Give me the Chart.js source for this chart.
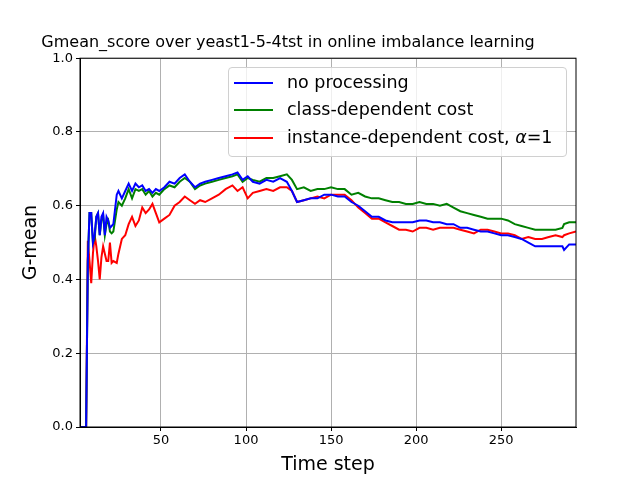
<!DOCTYPE html>
<html><head><meta charset="utf-8">
<script src="https://cdn.jsdelivr.net/npm/chart.js@4/dist/chart.umd.min.js"></script>
<style>
body{margin:0;background:#fff;font-family:"DejaVu Sans",sans-serif}
#wrap{position:relative;width:640px;height:480px}
#leg{position:absolute;left:228px;top:67px;width:337px;height:88px;border:1px solid #d0d0d0;border-radius:4px;background:rgba(255,255,255,0.8);font-size:17.5px;color:#000}
.it{position:absolute;left:5px;height:20px;line-height:20px;white-space:nowrap}
.ln{display:inline-block;width:39px;height:2px;vertical-align:middle;margin-right:14px}
</style></head><body>
<div id="wrap"><canvas id="c" width="640" height="480"></canvas>
<div id="leg">
<div class="it" style="top:4px"><span class="ln" style="background:#0000ff"></span>no processing</div>
<div class="it" style="top:31px"><span class="ln" style="background:#008000"></span>class-dependent cost</div>
<div class="it" style="top:59px"><span class="ln" style="background:#ff0000"></span>instance-dependent cost, <i>α</i>=1</div>
</div></div>
<script>
const steps=[3,5,6,7,8,9,10,11,12,13,14,15,16,17,18,19,20,21,22,24,25,27,29,31,33,35,37,39,41,43,45,47,49,52,55,58,61,64,67,70,73,76,80,84,88,92,95,98,101,104,108,112,116,120,124,127,130,134,138,142,146,150,154,158,162,166,170,174,178,182,186,190,194,198,202,206,210,214,218,222,226,230,234,238,242,246,250,254,258,262,266,270,274,278,282,286,287,290,294];
const noProc=[0,0,0,0.45,0.58,0.58,0.5,0.52,0.57,0.58,0.52,0.57,0.58,0.52,0.57,0.56,0.54,0.545,0.55,0.63,0.64,0.62,0.64,0.66,0.64,0.66,0.65,0.655,0.64,0.645,0.635,0.645,0.64,0.65,0.665,0.66,0.675,0.685,0.665,0.65,0.66,0.665,0.67,0.675,0.68,0.685,0.69,0.67,0.68,0.665,0.66,0.67,0.665,0.675,0.665,0.64,0.61,0.615,0.62,0.62,0.63,0.63,0.625,0.625,0.61,0.6,0.585,0.57,0.57,0.56,0.555,0.555,0.555,0.555,0.56,0.56,0.555,0.555,0.55,0.55,0.54,0.54,0.535,0.53,0.53,0.525,0.52,0.52,0.515,0.51,0.5,0.49,0.49,0.49,0.49,0.49,0.48,0.495,0.495];
const classCost=[0,0,0,0.45,0.58,0.58,0.5,0.51,0.57,0.58,0.52,0.56,0.575,0.52,0.55,0.56,0.53,0.525,0.53,0.59,0.61,0.6,0.62,0.645,0.62,0.645,0.64,0.645,0.63,0.64,0.625,0.635,0.63,0.645,0.655,0.65,0.665,0.675,0.665,0.645,0.655,0.66,0.665,0.67,0.675,0.68,0.685,0.665,0.675,0.67,0.665,0.675,0.675,0.68,0.685,0.67,0.645,0.65,0.64,0.645,0.645,0.65,0.645,0.645,0.63,0.635,0.625,0.62,0.62,0.615,0.61,0.61,0.605,0.605,0.61,0.605,0.605,0.6,0.605,0.595,0.585,0.58,0.575,0.57,0.565,0.565,0.565,0.56,0.55,0.545,0.54,0.535,0.535,0.535,0.535,0.54,0.55,0.555,0.555];
const instCost=[0,0,0,0.505,0.45,0.39,0.47,0.52,0.49,0.45,0.40,0.46,0.49,0.47,0.45,0.45,0.50,0.445,0.45,0.445,0.47,0.51,0.52,0.55,0.57,0.545,0.56,0.595,0.58,0.59,0.605,0.58,0.555,0.565,0.575,0.6,0.61,0.625,0.615,0.605,0.615,0.61,0.62,0.63,0.645,0.655,0.64,0.65,0.62,0.635,0.64,0.645,0.64,0.65,0.65,0.64,0.61,0.615,0.62,0.625,0.62,0.63,0.63,0.63,0.615,0.595,0.58,0.565,0.565,0.555,0.545,0.535,0.535,0.53,0.54,0.54,0.535,0.54,0.54,0.54,0.535,0.53,0.525,0.535,0.535,0.53,0.525,0.525,0.52,0.51,0.515,0.51,0.51,0.515,0.52,0.515,0.52,0.525,0.53];
const xTicks=[50,100,150,200,250];
const yTicks=[0,0.2,0.4,0.6,0.8,1.0];
const mk=(a,c)=>({data:steps.map((s,i)=>({x:s,y:a[i]})),borderColor:c,borderWidth:2,pointRadius:0,tension:0,fill:false});
const font={family:"DejaVu Sans",size:13};
new Chart(document.getElementById('c'),{type:'line',
data:{datasets:[mk(noProc,'#0000ff'),mk(classCost,'#008000'),mk(instCost,'#ff0000')]},
options:{responsive:false,animation:false,layout:{padding:{left:0,right:64,top:0,bottom:0}},
plugins:{legend:{display:false},tooltip:{enabled:false},
title:{display:true,text:'Gmean_score over yeast1-5-4tst in online imbalance learning',color:'#000',font:{family:"DejaVu Sans",size:16,weight:'normal'},padding:{top:33,bottom:6}}},
scales:{
x:{type:'linear',min:2.4,max:294,afterFit:s=>{s.height=53},
afterBuildTicks:s=>{s.ticks=xTicks.map(v=>({value:v}))},
ticks:{color:'#000',font,padding:2,maxRotation:0},
grid:{color:'#b0b0b0',tickColor:'#000',tickLength:4},border:{color:'#000'},
title:{display:true,text:'Time step',color:'#000',font:{family:"DejaVu Sans",size:19},padding:{top:2}}},
y:{min:0,max:1,afterFit:s=>{s.width=80},
afterBuildTicks:s=>{s.ticks=yTicks.map(v=>({value:v}))},
ticks:{color:'#000',font,padding:3,callback:v=>v.toFixed(1)},
grid:{color:'#b0b0b0',tickColor:'#000',tickLength:4},border:{color:'#000'},
title:{display:true,text:'G-mean',color:'#000',font:{family:"DejaVu Sans",size:19},padding:{top:20,bottom:0}}}
}},
plugins:[{id:'frame',afterDraw(c){const a=c.chartArea,x=c.ctx;x.save();x.strokeStyle='#000';x.lineWidth=1;x.strokeRect(a.left,a.top,a.right-a.left,a.bottom-a.top);x.restore();}}]
});
</script></body></html>
